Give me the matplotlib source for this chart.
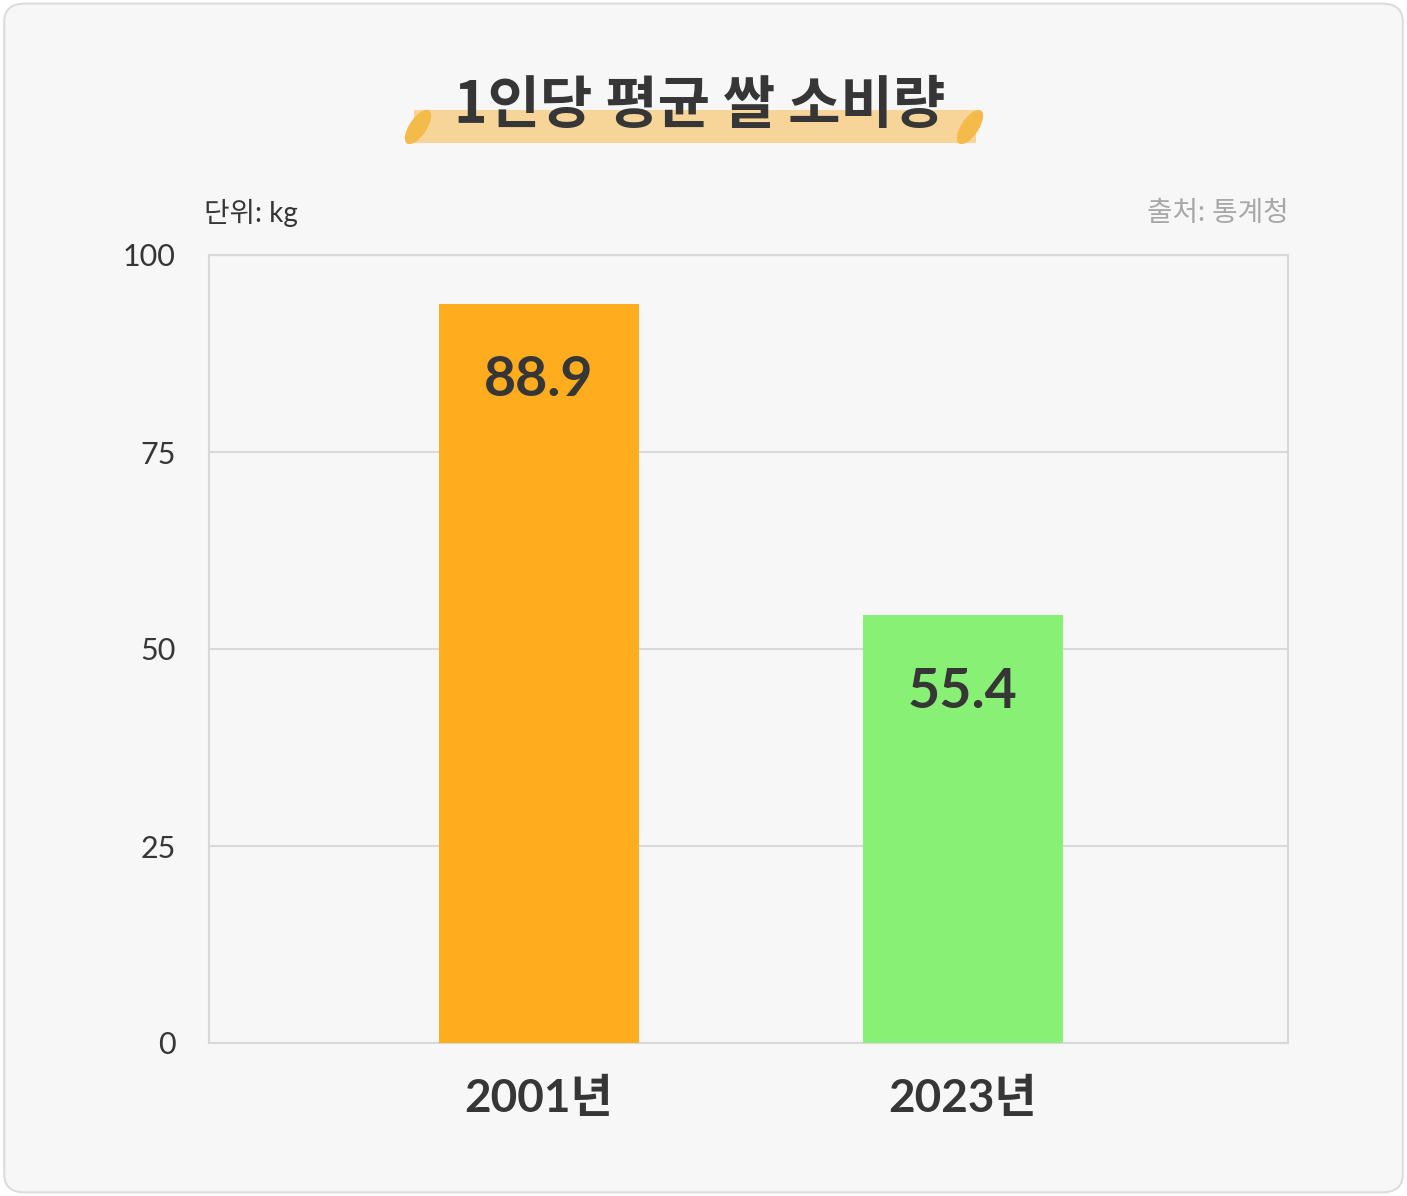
import matplotlib.pyplot as plt
from matplotlib.patches import FancyBboxPatch, Rectangle, Ellipse

# chart data (bar heights as drawn, labels as printed)
years = ['2001년', '2023년']
bar_heights = [93.8, 54.3]
value_labels = ['88.9', '55.4']
bar_colors = ['#FFAC1F', '#88F175']
yticks = [0, 25, 50, 75, 100]

title = '1인당 평균 쌀 소비량'
unit_text = '단위: kg'
source_text = '출처: 통계청'

latin_kr = ['Lato', 'Noto Sans CJK KR']
dark = '#363636'
grid_col = '#d9d9d9'

fig = plt.figure(figsize=(14.07, 11.96), dpi=100, facecolor='white')

# card background with rounded corners
card = FancyBboxPatch((0.003, 0.003), 0.994, 0.994,
                      boxstyle='round,pad=0,rounding_size=0.015',
                      transform=fig.transFigure, facecolor='#f7f7f7',
                      edgecolor='#dcdcdc', linewidth=1.5, zorder=0)
fig.patches.append(card)

# title highlight band
W, H = 1407, 1196
band = Rectangle((414 / W, 1 - 143 / H), 562 / W, 33 / H,
                 transform=fig.transFigure, facecolor='#F7D598',
                 edgecolor='none', zorder=1)
fig.patches.append(band)
for cx in (418, 970):
    ell = Ellipse((cx / W, 1 - 127 / H), 18 / W, 38 / H, angle=-28,
                  transform=fig.transFigure, facecolor='#F4BA4A',
                  edgecolor='none', zorder=1)
    fig.patches.append(ell)

fig.text(700 / W, 1 - 106 / H, title, ha='center', va='center',
         fontsize=41, fontweight='bold', color=dark,
         family=['Noto Sans CJK KR'], zorder=3)

ax = fig.add_axes([209 / W, 1 - 1043 / H, 1079 / W, 788 / H])
ax.set_facecolor('#f7f7f7')
ax.set_zorder(2)

x = range(len(years))
ax.bar(x, bar_heights, width=0.472, color=bar_colors, zorder=3)

for xi, h, lab in zip(x, bar_heights, value_labels):
    ax.annotate(lab, (xi, h), xytext=(0, -55), textcoords='offset points',
                ha='center', va='center', fontsize=40, fontweight='bold',
                color=dark, family=latin_kr, zorder=4)

ax.set_xlim(-0.778, 1.767)
ax.set_ylim(0, 100)
ax.set_yticks(yticks)
ax.set_yticklabels([str(t) for t in yticks], fontsize=22, color=dark,
                   family=latin_kr)
ax.set_xticks(list(x))
ax.set_xticklabels(years, fontsize=33, fontweight='bold', color=dark,
                   family=latin_kr)
ax.tick_params(axis='y', length=0, pad=24)
ax.tick_params(axis='x', length=0, pad=25)

ax.grid(axis='y', color=grid_col, linewidth=1.5, zorder=1)
for s in ax.spines.values():
    s.set_color(grid_col)
    s.set_linewidth(1.5)

fig.text(204 / W, 1 - 213 / H, unit_text, ha='left', va='center',
         fontsize=20, color=dark, family=latin_kr)
fig.text(1289 / W, 1 - 213 / H, source_text, ha='right', va='center',
         fontsize=20, color='#a8a8a8', family=latin_kr)

fig.savefig('out.png', dpi=100, facecolor='white')
